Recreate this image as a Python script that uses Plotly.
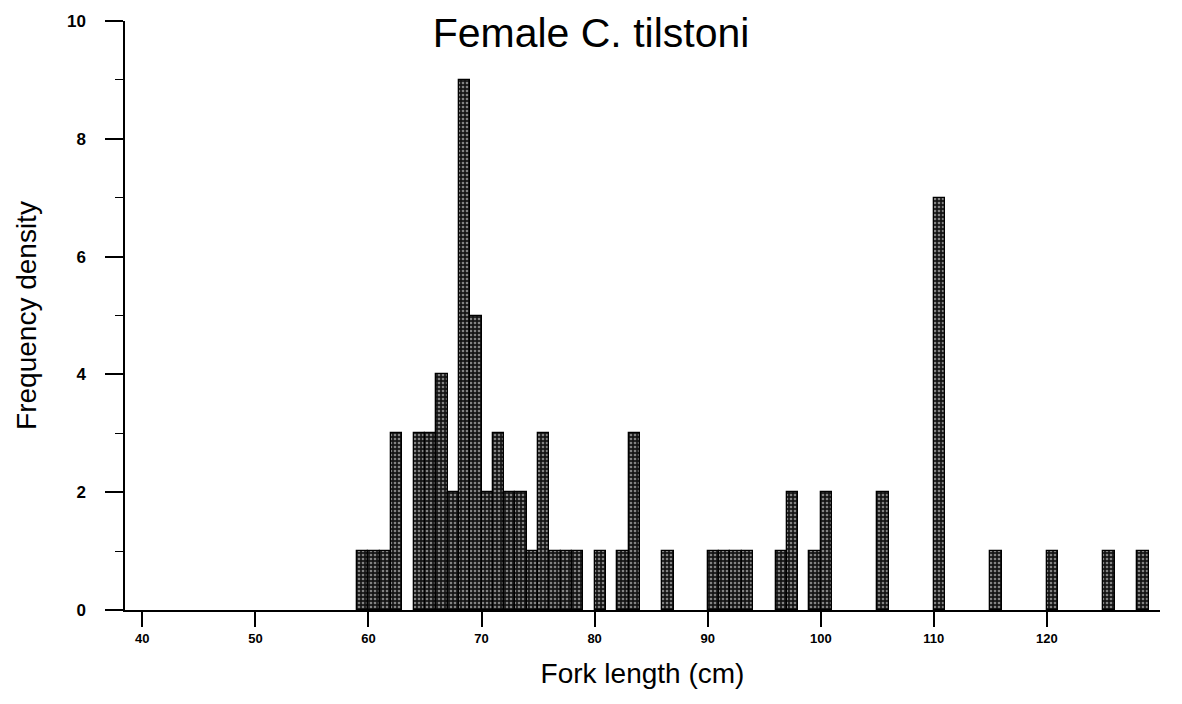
import plotly.graph_objects as go

# Histogram bins (left edge, cm) and frequency densities
bin_start = [59, 60, 61, 62, 64, 65, 66, 67, 68, 69, 70, 71, 72, 73, 74, 75, 76, 77, 78,
             80, 82, 83, 86, 90, 91, 92, 93, 96, 97, 99, 100, 105, 110, 115, 120, 125, 128]
frequency = [1, 1, 1, 3, 3, 3, 4, 2, 9, 5, 2, 3, 2, 2, 1, 3, 1, 1, 1,
             1, 1, 3, 1, 1, 1, 1, 1, 1, 2, 1, 2, 2, 7, 1, 1, 1, 1]
bin_width = 1

x_ticks = [40, 50, 60, 70, 80, 90, 100, 110, 120]
y_ticks = [0, 2, 4, 6, 8, 10]

FONT = "Liberation Sans, Arial, sans-serif"

fig = go.Figure()
fig.add_trace(go.Bar(
    x=[b + bin_width / 2 for b in bin_start],
    y=frequency,
    width=bin_width,
    marker=dict(
        color="#151515",
        line=dict(color="black", width=1.3),
        pattern=dict(shape=".", bgcolor="#151515", fgcolor="#f2f2f2",
                     size=4, solidity=0.35, fillmode="overlay"),
    ),
    showlegend=False,
))

fig.update_layout(
    width=1182, height=704,
    margin=dict(l=125, r=22, t=17, b=94),
    paper_bgcolor="white", plot_bgcolor="white",
    bargap=0,
    title=dict(text="Female C. tilstoni", x=0.5, xanchor="center",
               y=1 - 33 / 704, yanchor="middle", yref="container",
               font=dict(family=FONT, size=41, color="black")),
    font=dict(family=FONT, color="black"),
)

fig.update_xaxes(
    range=[38.47, 130.0],
    tickvals=x_ticks,
    ticktext=[str(v) for v in x_ticks],
    ticks="outside", ticklen=15, tickwidth=1.5, tickcolor="black",
    ticklabelstandoff=1,
    tickfont=dict(family=FONT, size=13, color="black", weight="bold"),
    showline=True, linecolor="black", linewidth=1.5,
    showgrid=False, zeroline=False,
    title=dict(text="Fork length (cm)", standoff=18,
               font=dict(family=FONT, size=28, color="black")),
)

fig.update_yaxes(
    range=[0, 10],
    tickvals=y_ticks,
    ticks="outside", ticklen=18, tickwidth=1.5, tickcolor="black",
    ticklabelstandoff=16,
    minor=dict(dtick=1, tick0=0, ticks="outside", ticklen=8, tickwidth=1, tickcolor="black"),
    tickfont=dict(family=FONT, size=17, color="black", weight="bold"),
    showline=True, linecolor="black", linewidth=1.5,
    showgrid=False, zeroline=False,
    title=dict(text="Frequency density", standoff=22,
               font=dict(family=FONT, size=28, color="black")),
)

fig.write_html("out.html")
